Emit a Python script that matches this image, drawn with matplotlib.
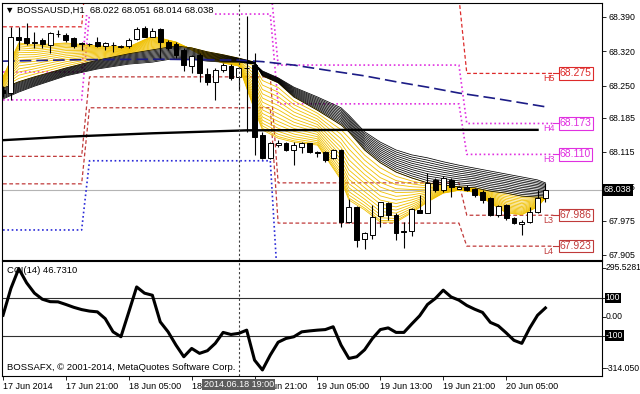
import numpy as np
import matplotlib.pyplot as plt

plt.rcParams['font.family'] = ['Liberation Sans', 'DejaVu Sans']

# BOSSAUSD H1 candles, 17 Jun 2014 13:00 .. 20 Jun 2014 10:00
opens = [68.242, 68.235, 68.349, 68.347, 68.339, 68.343, 68.333, 68.356, 68.353, 68.347,
         68.336, 68.335, 68.340, 68.331, 68.333, 68.330, 68.330, 68.345, 68.367, 68.350,
         68.365, 68.340, 68.334, 68.323, 68.290, 68.313, 68.274, 68.258, 68.281, 68.290,
         68.267, 68.287, 68.292, 68.150, 68.102, 68.129, 68.133, 68.119, 68.126, 68.133,
         68.114, 68.114, 68.102, 68.119, 67.973, 68.002, 67.937, 67.946, 67.985, 68.010,
         67.987, 67.953, 67.953, 67.997, 67.990, 68.058, 68.037, 68.058, 68.040, 68.044,
         68.039, 68.034, 68.021, 67.987, 68.007, 67.980, 67.968, 67.973, 67.993, 68.022]
highs = [68.250, 68.370, 68.370, 68.378, 68.360, 68.347, 68.360, 68.364, 68.357, 68.350,
         68.340, 68.338, 68.350, 68.340, 68.340, 68.333, 68.347, 68.370, 68.372, 68.367,
         68.367, 68.343, 68.340, 68.326, 68.313, 68.316, 68.286, 68.286, 68.296, 68.294,
         68.289, 68.391, 68.316, 68.156, 68.136, 68.139, 68.136, 68.136, 68.136, 68.134,
         68.116, 68.116, 68.122, 68.122, 68.019, 68.005, 67.951, 68.007, 68.014, 68.014,
         67.990, 67.973, 68.000, 68.027, 68.072, 68.061, 68.065, 68.061, 68.046, 68.048,
         68.041, 68.037, 68.024, 68.007, 68.009, 67.983, 67.976, 68.003, 68.037, 68.051]
lows = [68.226, 68.221, 68.323, 68.333, 68.327, 68.327, 68.316, 68.349, 68.340, 68.326,
        68.323, 68.330, 68.328, 68.323, 68.319, 68.326, 68.326, 68.343, 68.349, 68.349,
        68.306, 68.323, 68.306, 68.279, 68.275, 68.258, 68.251, 68.221, 68.277, 68.262,
        68.241, 68.156, 68.109, 68.100, 68.100, 68.125, 68.116, 68.088, 68.112, 68.112,
        68.105, 68.095, 68.100, 67.963, 67.971, 67.921, 67.917, 67.937, 67.963, 67.976,
        67.936, 67.919, 67.944, 67.990, 67.990, 68.034, 68.034, 68.024, 68.039, 68.036,
        68.024, 68.010, 67.985, 67.983, 67.976, 67.968, 67.946, 67.971, 67.990, 68.014]
closes = [68.236, 68.350, 68.343, 68.336, 68.336, 68.335, 68.357, 68.355, 68.343, 68.330,
          68.335, 68.334, 68.330, 68.336, 68.332, 68.330, 68.343, 68.365, 68.350, 68.362,
          68.340, 68.326, 68.313, 68.292, 68.311, 68.275, 68.258, 68.282, 68.292, 68.265,
          68.286, 68.286, 68.146, 68.102, 68.133, 68.134, 68.119, 68.129, 68.134, 68.114,
          68.112, 68.099, 68.119, 67.973, 68.003, 67.936, 67.949, 67.982, 68.012, 67.987,
          67.949, 67.951, 67.998, 67.990, 68.052, 68.037, 68.061, 68.044, 68.044, 68.037,
          68.027, 68.017, 67.987, 68.005, 67.980, 67.970, 67.973, 67.993, 68.021, 68.038]

cci = [8, 150, 255, 180, 125, 93, 80, 79, 65, 50,
       38, 30, 26, -10, -80, -106, 25, 158, 125, 114,
       -27, -80, -150, -212, -168, -194, -180, -141, -83, -94,
       -88, -71, -230, -282, -203, -135, -115, -106, -80, -75,
       -71, -68, -53, -150, -221, -212, -175, -115, -68, -59,
       -83, -83, -38, 5, 65, 97, 141, 105, 88, 60,
       40, 23, -30, -48, -85, -125, -141, -60, 8, 46.731]

tick_bars = [0, 8, 16, 24, 32, 40, 48, 56, 64]
tick_labels = ["17 Jun 2014", "17 Jun 21:00", "18 Jun 05:00", "18 Jun 13:00", "18 Jun 21:00",
               "19 Jun 05:00", "19 Jun 13:00", "19 Jun 21:00", "20 Jun 05:00"]
cursor_bar = 30
cursor_label = "2014.06.18 19:00"
price_ticks = [68.390, 68.320, 68.250, 68.185, 68.115, 68.045, 67.975, 67.905]

# daily camarilla levels (one value per day)
day_starts = [0, 11, 35, 59]
h5 = [68.370, 68.560, 68.430, 68.275]
h4 = [68.278, 68.460, 68.292, 68.173]
h3 = [68.221, 68.396, 68.213, 68.110]
l3 = [68.106, 68.268, 68.052, 67.986]
l4 = [68.050, 68.205, 67.970, 67.923]
l5 = [67.956, 68.097, 67.830, 67.820]

# rainbow ribbon: fastest MA, yellow/black boundary, slowest MA
rib_bars = [0, 2, 4, 8, 12, 16, 19, 22, 24, 26, 28, 30, 32, 33, 35, 37, 40, 43, 44, 46,
            48, 50, 52, 54, 56, 58, 60, 62, 64, 66, 68, 69]
rib_fast = [68.268, 68.337, 68.333, 68.337, 68.331, 68.329, 68.351, 68.339, 68.323, 68.306,
            68.296, 68.290, 68.200, 68.160, 68.143, 68.135, 68.129, 68.058, 68.017, 67.997,
            67.972, 67.972, 67.991, 68.013, 68.031, 68.037, 68.033, 68.011, 67.991, 67.987,
            68.003, 68.021]
rib_mid = [68.245, 68.258, 68.268, 68.286, 68.302, 68.315, 68.323, 68.331, 68.327, 68.319,
           68.313, 68.306, 68.298, 68.270, 68.256, 68.227, 68.200, 68.170, 68.156, 68.119,
           68.093, 68.074, 68.062, 68.052, 68.048, 68.044, 68.042, 68.035, 68.031, 68.025,
           68.023, 68.023]
rib_slow = [68.223, 68.237, 68.249, 68.270, 68.284, 68.294, 68.298, 68.306, 68.304, 68.300,
            68.298, 68.298, 68.294, 68.280, 68.266, 68.247, 68.227, 68.205, 68.190, 68.156,
            68.135, 68.119, 68.109, 68.103, 68.095, 68.088, 68.082, 68.076, 68.070, 68.064,
            68.058, 68.052]

trend_bars = [0, 10, 20, 30, 33, 37, 41, 46, 50, 54, 58, 63, 69]
trend_vals = [68.300, 68.303, 68.304, 68.302, 68.299, 68.292, 68.282, 68.270, 68.258,
              68.247, 68.235, 68.223, 68.207]
base_bars = [0, 8, 19, 31, 44, 56, 68]
base_vals = [68.139, 68.146, 68.153, 68.159, 68.160, 68.160, 68.160]

RED = '#dd2a2a'
DRED = '#c03a3a'
MAG = '#e030e0'
BLUE = '#2a2ad8'

fig = plt.figure(figsize=(6.4, 3.94), dpi=100)
ax = fig.add_axes([2 / 640, 1 - 260 / 394, 600 / 640, 257 / 394])
ax2 = fig.add_axes([2 / 640, 1 - 376 / 394, 600 / 640, 115 / 394])
xlim = (-0.13, 76.2)

o, h, l, c = map(np.array, (opens, highs, lows, closes))
x = np.arange(len(o))

# pivot levels
lv_x = np.arange(71)
day_idx = np.searchsorted(day_starts, lv_x, side='right') - 1
levels = [(h5, RED, (0, (3, 2)), 0.9), (h4, MAG, (0, (1, 1.6)), 1.2),
          (h3, MAG, (0, (1, 1.6)), 1.2), (l3, DRED, (0, (3, 2)), 0.9),
          (l4, DRED, (0, (3, 2)), 0.9), (l5, BLUE, (0, (1, 1.6)), 1.2)]
for vals, col, ls, lw in levels:
    ax.plot(lv_x, np.array(vals)[day_idx], color=col, ls=ls, lw=lw, zorder=1.8)

# ribbon
rb = np.array(rib_bars)
f, m, s = np.array(rib_fast), np.array(rib_mid), np.array(rib_slow)
n_y, n_b = 16, 12
for k in range(n_y):
    t = (k / (n_y - 1)) ** 1.3
    ax.plot(rb, f + t * (m - f), color='#f0c000', lw=0.6, zorder=2)
for k in range(n_b):
    t = k / (n_b - 1)
    ax.plot(rb, m + t * (s - m), color='black', lw=0.55, zorder=2.1)

ax.axhline(c[-1], color='#b4b4b4', lw=0.8, zorder=1)
ax.plot(base_bars, base_vals, color='black', lw=1.7, zorder=3)
ax.plot(trend_bars, trend_vals, color='#1c1c86', lw=1.2, ls=(0, (7, 3)), zorder=3)

# candles
ax.vlines(x, l, h, color='black', lw=0.8, zorder=4)
body = np.abs(c - o)
bh = np.maximum(body, 0.0006)
bottom = np.minimum(o, c) - (bh - body) / 2
ax.bar(x, bh, bottom=bottom, width=0.62, color=np.where(c >= o, 'white', 'black'),
       edgecolor='black', lw=0.7, zorder=5)

# crosshair
for a in (ax, ax2):
    a.axvline(cursor_bar, color='#404040', lw=0.8, ls=(0, (2, 2)), zorder=6)

# level labels at right
for name, vals, col in [("H5", h5, RED), ("H4", h4, MAG), ("H3", h3, MAG),
                        ("L3", l3, DRED), ("L4", l4, DRED)]:
    v = vals[-1]
    ax.text(68.7, v - 0.002, name, color=col, fontsize=6.5, ha='left', va='top', zorder=7)
    ax.plot([70, 70.7], [v, v], color=col, lw=0.8, zorder=7)
    ax.text(70.85, v, f"{v:.3f}", color=col, fontsize=7.5, ha='left', va='center', zorder=8,
            bbox=dict(boxstyle='square,pad=0.12', fc='white', ec=col, lw=0.8))

ax.set_xlim(*xlim)
ax.set_ylim(67.8948, 68.4185)
ax.set_xticks([])
ax.yaxis.tick_right()
ax.set_yticks(price_ticks)
ax.set_yticklabels([f"{p:.3f}" for p in price_ticks])
ax.tick_params(axis='y', labelsize=6.3, length=3, width=0.6, pad=1.5)
ax.text(1.003, c[-1], f"{c[-1]:.3f}", transform=ax.get_yaxis_transform(), fontsize=6.5,
        color='white', ha='left', va='center', zorder=10, clip_on=False,
        bbox=dict(boxstyle='square,pad=0.15', fc='black', ec='none'))
ax.text(0.005, 0.973, "\u25bc BOSSAUSD,H1  %.3f %.3f %.3f %.3f" % (o[-1], h[-1], l[-1], c[-1]),
        transform=ax.transAxes, fontsize=6.8, ha='left', va='center', zorder=9,
        bbox=dict(boxstyle='square,pad=0.05', fc='white', ec='none'))

# CCI panel
ax2.plot(x, cci, color='black', lw=2.2, zorder=3)
ax2.axhline(100, color='#303030', lw=0.8)
ax2.axhline(-100, color='#303030', lw=0.8)
ax2.set_xlim(*xlim)
ax2.set_ylim(-314.05, 295.5281)
ax2.yaxis.tick_right()
ax2.set_yticks([259, 100, 0, -100, -272])
ax2.set_yticklabels([])
ax2.tick_params(axis='y', length=3, width=0.6)
ytr = ax2.get_yaxis_transform()
for val, txt, boxed in [(259, "295.5281", False), (100, "100", True), (0, "0.00", False),
                        (-100, "-100", True), (-272, "-314.050", False)]:
    kw = dict(bbox=dict(boxstyle='square,pad=0.1', fc='black', ec='none')) if boxed else {}
    ax2.text(1.006, val, txt, transform=ytr, fontsize=6.2, ha='left', va='center',
             color='white' if boxed else 'black', clip_on=False, **kw)
ax2.set_xticks(tick_bars)
ax2.set_xticklabels(tick_labels)
for lab in ax2.get_xticklabels():
    lab.set_ha('left')
ax2.tick_params(axis='x', labelsize=6.5, length=3, width=0.6, pad=1.5)
ax2.text(cursor_bar, -0.075, cursor_label, transform=ax2.get_xaxis_transform(), fontsize=6.5,
         color='white', ha='center', va='center', zorder=10, clip_on=False,
         bbox=dict(boxstyle='square,pad=0.15', fc='#5c5c5c', ec='none'))
ax2.text(0.008, 0.92, "CCI(14) %.4f" % cci[-1], transform=ax2.transAxes, fontsize=6.8,
         ha='left', va='center')
ax2.text(0.008, 0.07, "BOSSAFX, \u00a9 2001-2014, MetaQuotes Software Corp.",
         transform=ax2.transAxes, fontsize=6.8, ha='left', va='center')

for a in (ax, ax2):
    for sp in a.spines.values():
        sp.set_linewidth(0.8)

fig.savefig("out.png", dpi=100)
